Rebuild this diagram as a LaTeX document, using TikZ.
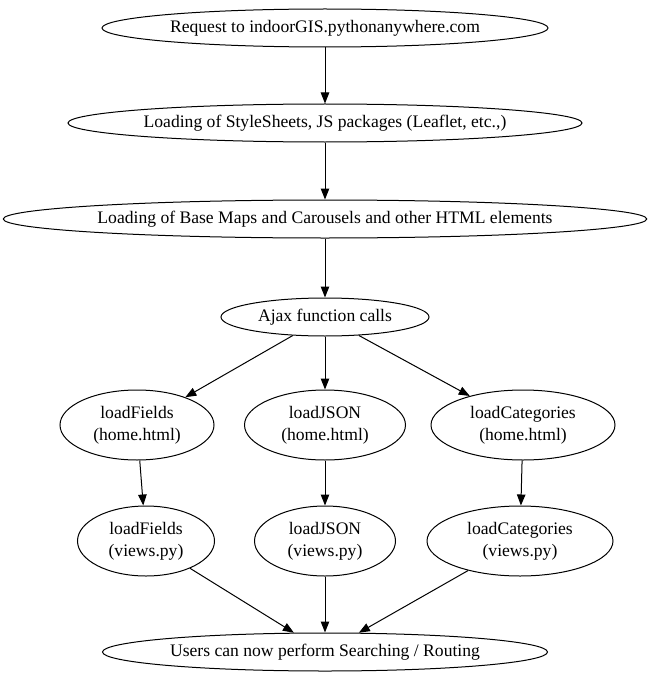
\documentclass[tikz,border=0pt]{standalone}
\usepackage{fontspec}
\setmainfont{Liberation Serif}
\usetikzlibrary{arrows.meta,positioning,shapes.geometric}

\begin{document}
\begin{tikzpicture}[x=1pt, y=-1pt, line width=1pt,
    every node/.style={ellipse, draw, inner sep=0pt, align=center, font=\fontsize{17.6}{22}\selectfont},
    flecha/.style={-{Triangle[length=11pt,width=8.5pt]}}]
  \useasboundingbox (0,0) rectangle (654,682);
  % Nodos
  \node[minimum width=446pt, minimum height=38pt] (req) at (325,28) {Request to indoorGIS.pythonanywhere.com};
  \node[minimum width=514pt, minimum height=38pt] (css) at (325,123) {Loading of StyleSheets, JS packages (Leaflet, etc.,)};
  \node[minimum width=641pt, minimum height=38pt] (base) at (325,219) {Loading of Base Maps and Carousels and other HTML elements};
  \node[minimum width=208pt, minimum height=38pt] (ajax) at (325,317) {Ajax function calls};

  \node[minimum width=154pt, minimum height=70pt] (fh) at (137,425) {loadFields\\(home.html)};
  \node[minimum width=161pt, minimum height=70pt] (jh) at (325,425) {loadJSON\\(home.html)};
  \node[minimum width=184pt, minimum height=70pt] (ch) at (523,425) {loadCategories\\(home.html)};

  \node[minimum width=137pt, minimum height=70pt] (fv) at (146,541) {loadFields\\(views.py)};
  \node[minimum width=141pt, minimum height=70pt] (jv) at (325,541) {loadJSON\\(views.py)};
  \node[minimum width=186pt, minimum height=70pt] (cv) at (520,541) {loadCategories\\(views.py)};

  \node[minimum width=445pt, minimum height=38pt] (users) at (325,652) {Users can now perform Searching / Routing};

  % Camino
  \draw[flecha] (req) -- (css);
  \draw[flecha] (css) -- (base);
  \draw[flecha] (base) -- (ajax);
  \draw[flecha] (ajax) -- (fh);
  \draw[flecha] (ajax) -- (jh);
  \draw[flecha] (ajax) -- (ch);
  \draw[flecha] (fh) -- (fv);
  \draw[flecha] (jh) -- (jv);
  \draw[flecha] (ch) -- (cv);
  \draw[flecha] (fv) -- (users);
  \draw[flecha] (jv) -- (users);
  \draw[flecha] (cv) -- (users);
\end{tikzpicture}
\end{document}
